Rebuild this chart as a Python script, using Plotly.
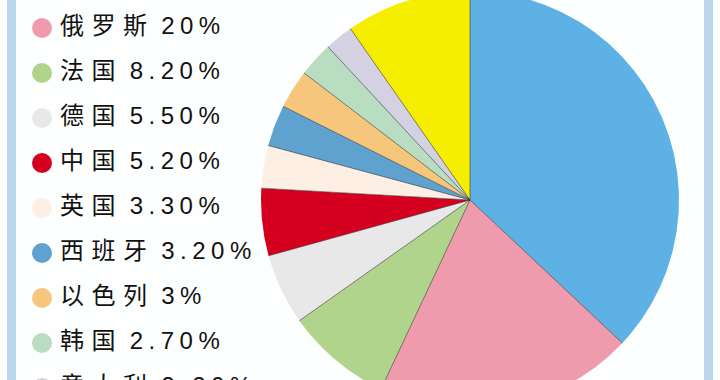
import numpy as np
import plotly.graph_objects as go

# ---- data ----
countries = ["美国", "俄罗斯", "法国", "德国", "中国", "英国", "西班牙", "以色列", "韩国", "意大利", "其他"]
shares = [37, 20, 8.2, 5.5, 5.2, 3.3, 3.2, 3.0, 2.7, 2.2, 9.7]
pct_labels = ["37%", "20%", "8.20%", "5.50%", "5.20%", "3.30%", "3.20%", "3%", "2.70%", "2.20%", ""]
colors = ["#5DB1E4", "#F09BAD", "#B1D48D", "#E8E8E9", "#D5001F", "#FDEFE4",
          "#5FA2CF", "#F7C67D", "#B8DDC0", "#D3D1E2", "#F6EE00"]

# ---- layout params (pixel space) ----
W, H = 720, 380
cx, cy, R = 470, 200, 209
leg_x, leg_y0, leg_dy = 42, 28, 45

fig = go.Figure()

total = sum(shares)
cum = np.concatenate([[0], np.cumsum(shares)]) / total * 2 * np.pi
for i, (c, col) in enumerate(zip(countries, colors)):
    t = np.linspace(cum[i], cum[i + 1], max(int((cum[i + 1] - cum[i]) / 0.005), 4))
    xs = np.concatenate([[cx], cx + R * np.sin(t), [cx]])
    ys = np.concatenate([[cy], cy - R * np.cos(t), [cy]])
    fig.add_trace(go.Scatter(x=xs, y=ys, mode="lines", fill="toself", fillcolor=col,
                             line=dict(width=0), hoverinfo="text", text=c, showlegend=False))

# radial edges
ex, ey = [], []
for a in cum[:-1]:
    ex += [cx, cx + R * np.sin(a), None]
    ey += [cy, cy - R * np.cos(a), None]
fig.add_trace(go.Scatter(x=ex, y=ey, mode="lines", line=dict(color="rgba(50,50,50,0.75)", width=0.8),
                         hoverinfo="skip", showlegend=False))

# legend (Russia .. Italy; the US entry lies above the visible area)
idx = list(range(1, len(countries) - 1))
ly = [leg_y0 + leg_dy * k for k in range(len(idx))]
fig.add_trace(go.Scatter(x=[leg_x] * len(idx), y=ly, mode="markers",
                         marker=dict(size=20, color=[colors[i] for i in idx], line=dict(width=0)),
                         hoverinfo="skip", showlegend=False))
texts = ['<span style="letter-spacing:7.5px">%s</span> <span style="letter-spacing:5.5px">%s</span>'
         % (countries[i], pct_labels[i]) for i in idx]
fig.add_trace(go.Scatter(x=[leg_x + 18] * len(idx), y=ly, mode="text", text=texts,
                         textposition="middle right",
                         textfont=dict(size=24, color="#111111", family="Liberation Sans, Noto Sans CJK SC"),
                         hoverinfo="skip", showlegend=False))

fig.update_layout(
    width=W, height=H, margin=dict(l=0, r=0, t=0, b=0),
    paper_bgcolor="#FDFEFE", plot_bgcolor="#FDFEFE",
    xaxis=dict(range=[0, W], visible=False, fixedrange=True),
    yaxis=dict(range=[H, 0], visible=False, fixedrange=True),
    shapes=[
        dict(type="rect", xref="paper", yref="paper", x0=7 / W, x1=16 / W, y0=0, y1=1,
             fillcolor="#BCD8EE", line=dict(width=0), layer="below"),
        dict(type="rect", xref="paper", yref="paper", x0=704 / W, x1=713 / W, y0=0, y1=1,
             fillcolor="#BCD8EE", line=dict(width=0), layer="below"),
    ],
)

fig.write_html("out.html")
